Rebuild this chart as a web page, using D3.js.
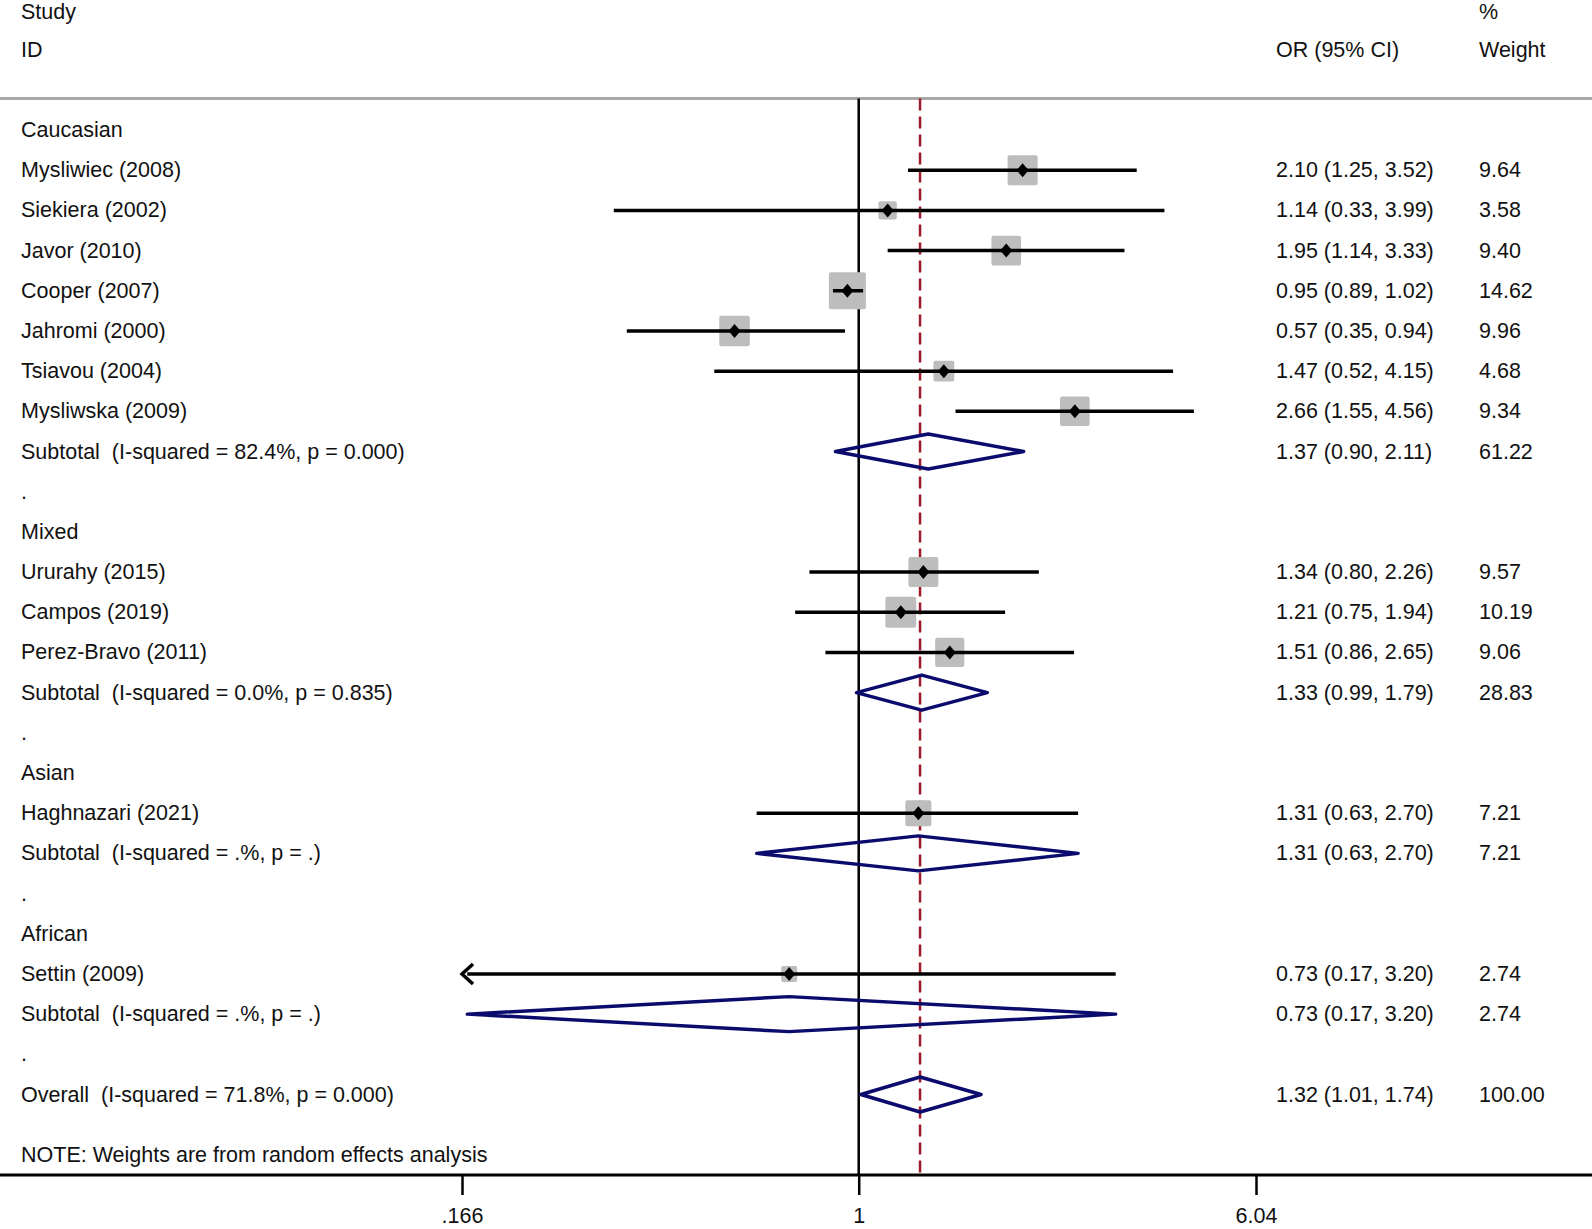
<!DOCTYPE html>
<html>
<head>
<meta charset="utf-8">
<script src="https://cdn.jsdelivr.net/npm/d3@7"></script>
<style>
  body { margin: 0; background: #fff; }
  text { font-family: "Liberation Sans", Arial, sans-serif; font-size: 21.5px; fill: #111; }
</style>
</head>
<body>
<svg id="chart" width="1592" height="1229"></svg>
<script>
// row labels, in plot order (type: g = group heading, s = study, t = subtotal, b = blank, o = overall)
let labels = [
  'Caucasian', 'Mysliwiec (2008)', 'Siekiera (2002)', 'Javor (2010)', 'Cooper (2007)', 'Jahromi (2000)',
  'Tsiavou (2004)', 'Mysliwska (2009)', 'Subtotal  (I-squared = 82.4%, p = 0.000)', '.',
  'Mixed', 'Ururahy (2015)', 'Campos (2019)', 'Perez-Bravo (2011)', 'Subtotal  (I-squared = 0.0%, p = 0.835)', '.',
  'Asian', 'Haghnazari (2021)', 'Subtotal  (I-squared = .%, p = .)', '.',
  'African', 'Settin (2009)', 'Subtotal  (I-squared = .%, p = .)', '.',
  'Overall  (I-squared = 71.8%, p = 0.000)'
];
let types = ['g','s','s','s','s','s','s','s','t','b','g','s','s','s','t','b','g','s','t','b','g','s','t','b','o'];
let est   = [null,2.10,1.14,1.95,0.95,0.57,1.47,2.66,1.37,null,null,1.34,1.21,1.51,1.33,null,null,1.31,1.31,null,null,0.73,0.73,null,1.32];
let lower = [null,1.25,0.33,1.14,0.89,0.35,0.52,1.55,0.90,null,null,0.80,0.75,0.86,0.99,null,null,0.63,0.63,null,null,0.17,0.17,null,1.01];
let upper = [null,3.52,3.99,3.33,1.02,0.94,4.15,4.56,2.11,null,null,2.26,1.94,2.65,1.79,null,null,2.70,2.70,null,null,3.20,3.20,null,1.74];
let weight = [null,9.64,3.58,9.40,14.62,9.96,4.68,9.34,61.22,null,null,9.57,10.19,9.06,28.83,null,null,7.21,7.21,null,null,2.74,2.74,null,100.00];
let tickValues = [0.166, 1, 6.04];
let tickLabels = ['.166', '1', '6.04'];

let svg = d3.select('#chart');
let width = 1592;

let x = d3.scaleLog().domain([0.166, 6.04]).range([462, 1256]);
let y = d3.scaleLinear().domain([0, 24]).range([130, 1094.5]);
let boxSize = d3.scaleSqrt().domain([0, 14.62]).range([0, 37]);

let topY = 98.5, axisY = 1175;
let colLabel = 21, colOR = 1276, colW = 1479;

// header
svg.append('text').attr('x', colLabel).attr('y', 12).attr('dominant-baseline', 'central').text('Study');
svg.append('text').attr('x', colLabel).attr('y', 50).attr('dominant-baseline', 'central').text('ID');
svg.append('text').attr('x', colOR).attr('y', 50).attr('dominant-baseline', 'central').text('OR (95% CI)');
svg.append('text').attr('x', colW).attr('y', 12).attr('dominant-baseline', 'central').text('%');
svg.append('text').attr('x', colW).attr('y', 50).attr('dominant-baseline', 'central').text('Weight');

svg.append('line')
  .attr('x1', 0).attr('x2', width).attr('y1', topY).attr('y2', topY)
  .attr('stroke', '#a8a8a8').attr('stroke-width', 3);

// reference line at 1
svg.append('line')
  .attr('x1', x(1)).attr('x2', x(1)).attr('y1', topY).attr('y2', axisY)
  .attr('stroke', '#000').attr('stroke-width', 2.5);

// overall effect dashed line
let overall = est[est.length - 1];
svg.append('line')
  .attr('x1', x(overall)).attr('x2', x(overall)).attr('y1', topY).attr('y2', axisY)
  .attr('stroke', '#9b1b2a').attr('stroke-width', 2.5)
  .attr('stroke-dasharray', '12,6');

let rows = labels.map(function(d, i) {
  return {label: d, type: types[i], est: est[i], lo: lower[i], hi: upper[i], w: weight[i], i: i};
});

let clamp = function(v) { return Math.max(0.166, Math.min(6.04, v)); };

// study rows
let studies = rows.filter(function(d) { return d.type === 's'; });
let sg = svg.append('g').attr('class', 'studies');

sg.selectAll('rect')
  .data(studies)
  .enter().append('rect')
    .attr('x', function(d) { return x(d.est) - boxSize(d.w) / 2; })
    .attr('y', function(d) { return y(d.i) - boxSize(d.w) / 2; })
    .attr('width', function(d) { return boxSize(d.w); })
    .attr('height', function(d) { return boxSize(d.w); })
    .attr('rx', 2)
    .attr('fill', '#bdbdbd');

sg.selectAll('line.ci')
  .data(studies)
  .enter().append('line')
    .attr('class', 'ci')
    .attr('x1', function(d) { return x(clamp(d.lo)); })
    .attr('x2', function(d) { return x(clamp(d.hi)); })
    .attr('y1', function(d) { return y(d.i); })
    .attr('y2', function(d) { return y(d.i); })
    .attr('stroke', '#000').attr('stroke-width', 3.5);

// arrows where the CI runs to the axis edge
sg.selectAll('path.arrow')
  .data(studies.filter(function(d) { return x(d.lo) - x(0.166) < 6; }))
  .enter().append('path')
    .attr('class', 'arrow')
    .attr('d', function(d) {
      let x0 = x(0.166), y0 = y(d.i);
      return 'M' + (x0 + 11) + ',' + (y0 - 10) + 'L' + x0 + ',' + y0 + 'L' + (x0 + 11) + ',' + (y0 + 10);
    })
    .attr('fill', 'none').attr('stroke', '#000').attr('stroke-width', 3.5);

sg.selectAll('path.pt')
  .data(studies)
  .enter().append('path')
    .attr('class', 'pt')
    .attr('d', function(d) {
      let cx = x(d.est), cy = y(d.i);
      return 'M' + (cx - 6) + ',' + cy + 'L' + cx + ',' + (cy - 7) + 'L' + (cx + 6) + ',' + cy + 'L' + cx + ',' + (cy + 7) + 'Z';
    })
    .attr('fill', '#000');

// pooled diamonds
let pooled = rows.filter(function(d) { return d.type === 't' || d.type === 'o'; });
svg.append('g').selectAll('path')
  .data(pooled)
  .enter().append('path')
    .attr('d', function(d) {
      let cy = y(d.i), h = 17.5;
      return 'M' + x(clamp(d.lo)) + ',' + cy + 'L' + x(d.est) + ',' + (cy - h) +
             'L' + x(clamp(d.hi)) + ',' + cy + 'L' + x(d.est) + ',' + (cy + h) + 'Z';
    })
    .attr('fill', 'none').attr('stroke', '#0b0b6e').attr('stroke-width', 3.5)
    .attr('stroke-linejoin', 'round');

// text columns
let tg = svg.append('g').attr('class', 'labels');
tg.selectAll('text.lab')
  .data(rows)
  .enter().append('text')
    .attr('class', 'lab')
    .attr('x', colLabel)
    .attr('y', function(d) { return y(d.i); })
    .attr('dominant-baseline', 'central')
    .style('white-space', 'pre')
    .text(function(d) { return d.label; });

let withEst = rows.filter(function(d) { return d.est !== null; });
tg.selectAll('text.or')
  .data(withEst)
  .enter().append('text')
    .attr('x', colOR)
    .attr('y', function(d) { return y(d.i); })
    .attr('dominant-baseline', 'central')
    .text(function(d) { return d.est.toFixed(2) + ' (' + d.lo.toFixed(2) + ', ' + d.hi.toFixed(2) + ')'; });

tg.selectAll('text.w')
  .data(withEst)
  .enter().append('text')
    .attr('x', colW)
    .attr('y', function(d) { return y(d.i); })
    .attr('dominant-baseline', 'central')
    .text(function(d) { return d.w.toFixed(2); });

svg.append('text')
  .attr('x', colLabel).attr('y', 1155)
  .attr('dominant-baseline', 'central')
  .text('NOTE: Weights are from random effects analysis');

// x axis
svg.append('line')
  .attr('x1', 0).attr('x2', width).attr('y1', axisY).attr('y2', axisY)
  .attr('stroke', '#000').attr('stroke-width', 3);

let axis = d3.axisBottom(x)
  .tickValues(tickValues)
  .tickFormat(function(d, i) { return tickLabels[i]; })
  .tickSize(20)
  .tickPadding(13);

let ag = svg.append('g')
  .attr('transform', 'translate(0,' + axisY + ')')
  .call(axis);
ag.select('.domain').remove();
ag.selectAll('.tick line').attr('stroke', '#000').attr('stroke-width', 2.5);
ag.selectAll('.tick text')
  .attr('font-family', null).attr('font-size', null)
  .style('font-size', '21.5px').style('fill', '#111');
</script>
</body>
</html>
